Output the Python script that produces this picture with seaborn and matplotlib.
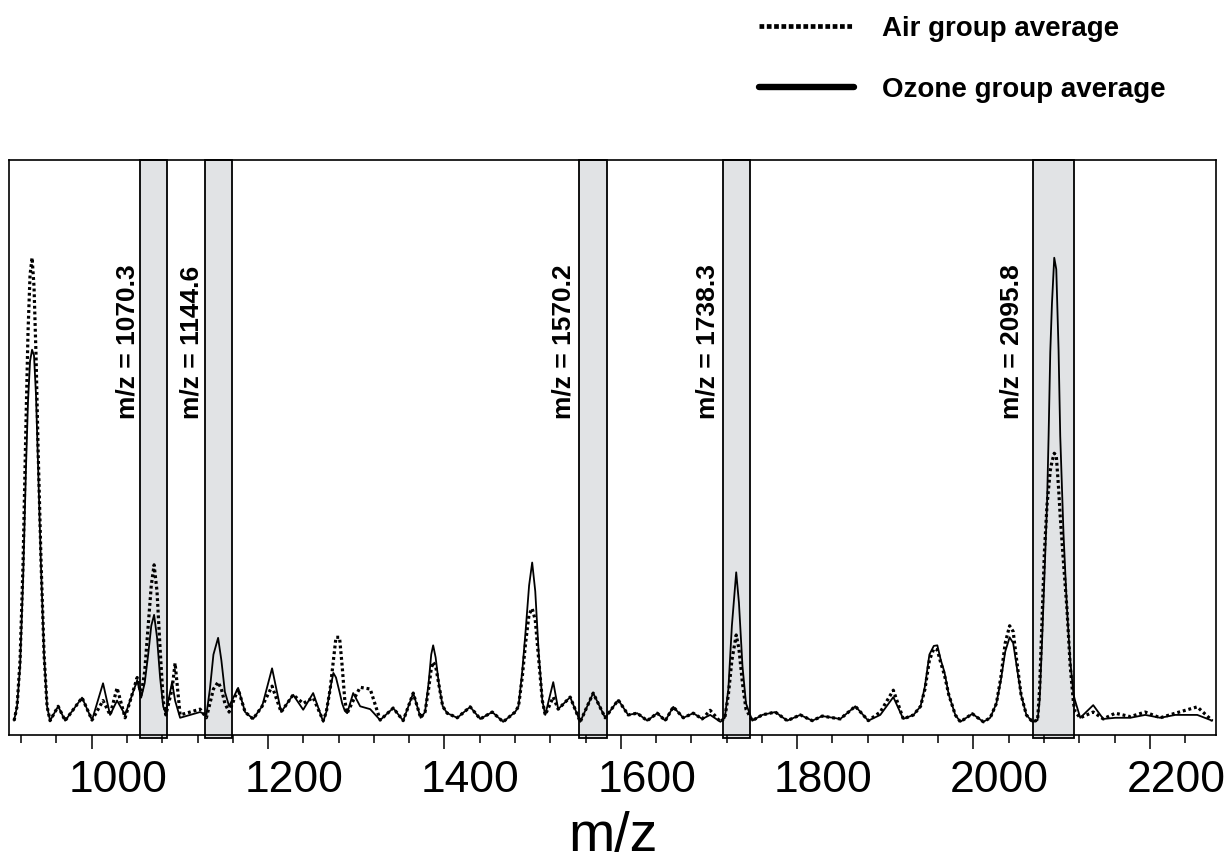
import numpy as np
import pandas as pd
import matplotlib
matplotlib.use("Agg")
import matplotlib.pyplot as plt
import matplotlib.transforms as mtransforms
from matplotlib.lines import Line2D
import seaborn as sns

# ---------------- data ----------------
mz = [911.9, 915.3, 918.7, 922.1, 925.5, 927.7, 930.0, 932.3, 934.5, 936.8,
      939.1, 942.5, 945.9, 949.3, 952.7, 961.9, 969.8, 989.0, 1000.3, 1012.8,
      1020.8, 1028.7, 1037.8, 1051.5, 1056, 1060, 1064, 1067.5, 1070.7, 1074,
      1077.5, 1081, 1084, 1091.1, 1094.5, 1100.2, 1111.5, 1122.9, 1130, 1134,
      1138, 1143.3, 1147, 1151, 1155.8, 1166.0, 1173.9, 1183.0, 1193.2, 1204.5,
      1214.8, 1228.4, 1239.8, 1251.1, 1262.5, 1266, 1270.4, 1274, 1277, 1281,
      1284, 1287, 1289.7, 1296.5, 1304.4, 1315.8, 1327.1, 1341.9, 1353.2, 1364.6,
      1373, 1378, 1382, 1385, 1387.2, 1390, 1394, 1398, 1403.1, 1414.5,
      1429.2, 1440.6, 1454.2, 1466.6, 1480.2, 1484, 1488.2, 1492, 1496, 1499.5,
      1503, 1507, 1511, 1514.3, 1523.4, 1529.0, 1542.6, 1554.0, 1568.7, 1582.3,
      1597.1, 1608.4, 1618.6, 1630.0, 1641.4, 1650.5, 1659.5, 1670.9, 1682.2, 1692.4,
      1701.4, 1713, 1718, 1722, 1726, 1730.9, 1734, 1738, 1742, 1749.1,
      1760.4, 1775.2, 1788.8, 1803.5, 1817.2, 1828.5, 1848.9, 1866.0, 1880.7, 1894.3,
      1909.1, 1920.4, 1932, 1940, 1945, 1950, 1955, 1959, 1963, 1967,
      1972, 1979.4, 1985.1, 1998.7, 2011.2, 2019, 2026, 2031, 2036, 2041,
      2045, 2049, 2054, 2060, 2066.8, 2072.7, 2075, 2077.7, 2080.5, 2083.4,
      2085.2, 2087.1, 2089.0, 2091.6, 2093.9, 2096.5, 2098.4, 2102.1, 2106.0, 2109.7,
      2113.5, 2115.4, 2121.1, 2135.8, 2147.2, 2160.8, 2177.8, 2194.8, 2211.8, 2228.9,
      2253.8, 2270.8]

air = [2.5, 5, 13, 30, 55, 70, 80, 83, 78, 66,
       50, 30, 14, 5, 2.5, 5, 2.5, 6.5, 2.6, 6,
       3.5, 8.2, 3, 10, 7, 11, 19, 26, 29.6, 25,
       15, 6, 3.5, 8, 12.5, 3.5, 4, 4.5, 3, 5.5,
       8, 9.2, 8, 5.5, 4, 8, 4, 2.8, 5, 8.5,
       4, 7, 5.5, 6.5, 2.5, 4, 8, 13, 17, 17,
       12, 6, 3.8, 6, 8.3, 8.0, 2.6, 4.7, 2.5, 7.3,
       3, 4, 8, 11.5, 12.7, 12, 8.5, 5, 3.8, 3,
       4.9, 2.8, 4, 2.3, 4, 5, 10, 16, 21, 22,
       20, 13, 6, 3.5, 6.6, 4.5, 6.6, 2.3, 7.3, 3,
       6.1, 3.5, 3.8, 2.5, 3.8, 2.5, 4.9, 3.0, 3.8, 2.8,
       4.3, 2.3, 3, 7, 13, 17.4, 15, 9, 4.5, 2.5,
       3.5, 4, 2.5, 3.5, 2.5, 3.3, 2.8, 5, 2.5, 4,
       7.8, 2.8, 3.5, 5, 8, 13, 15, 14.8, 12.5, 10.5,
       7, 3.5, 2.3, 3.7, 2.3, 3, 5.5, 10, 16, 19,
       18, 13, 7, 3.5, 2.3, 2.6, 8, 20, 32, 40,
       43, 46, 47.5, 49, 48.6, 43, 38, 30, 22, 12,
       5.5, 4, 3, 4, 2.8, 3.8, 3.2, 4, 3, 3.8,
       4.9, 2.5]

ozone = [2.5, 5, 12, 27, 47, 58, 65, 67, 66, 59,
         47, 29, 14, 5, 2.5, 5, 2.5, 6.5, 2.6, 9,
         3.5, 6, 3.5, 9.5, 6.5, 9, 14, 19, 20.9, 17,
         10, 5, 3.8, 9.2, 6, 3, 3.5, 4, 3.5, 8,
         14, 16.9, 13, 7.5, 5, 8.2, 4, 2.8, 5, 11.6,
         4, 7, 4.4, 7.3, 2.3, 4, 8, 10.8, 10, 7.5,
         5.5, 4.2, 3.8, 7.3, 5, 4.5, 2.6, 4.7, 2.5, 7.3,
         3, 4, 9, 14, 15.6, 13.5, 8.5, 5, 3.8, 3,
         4.9, 2.8, 4, 2.3, 4, 5, 11, 18, 26, 30,
         25, 14, 6, 3.5, 9.2, 4.5, 6.6, 2.3, 7.3, 3,
         6.1, 3.5, 3.8, 2.5, 3.8, 2.5, 4.9, 3.0, 3.8, 2.8,
         3.5, 2.3, 3, 8, 19, 28.3, 23, 12, 5.5, 2.5,
         3.5, 4, 2.5, 3.5, 2.5, 3.3, 2.8, 5, 2.5, 3.5,
         6.6, 2.8, 3.5, 5, 8.5, 14, 15.5, 15.6, 13, 11,
         7, 3.5, 2.3, 3.7, 2.3, 3, 5.5, 9.5, 14.5, 17,
         16, 12, 7, 3.5, 2.3, 2.6, 6, 16, 28, 40,
         52, 66.6, 75, 83, 81, 67, 52, 35, 22, 13,
         7, 5.9, 3, 5.2, 2.8, 3, 3, 3.5, 3, 3.5,
         3.5, 2.5]

band_labels = ["1070.3", "1144.6", "1570.2", "1738.3", "2095.8"]
band_lo = [1055.0, 1128.6, 1553.0, 1715.5, 2067.5]
band_hi = [1085.5, 1159.5, 1584.0, 1746.0, 2114.0]
label_x = [1041.0, 1112.6, 1534.6, 1698.0, 2042.8]

major_ticks = [1000, 1200, 1400, 1600, 1800, 2000, 2200]
minor_ticks = list(range(920, 2241, 40))

series_names = ["Air group average", "Ozone group average"]

df = pd.DataFrame({"mz": mz, "air": air, "ozone": ozone})

# ---------------- style ----------------
sns.set_theme(style="white")
plt.rcParams["font.family"] = ["Liberation Sans", "DejaVu Sans"]
plt.rcParams["text.color"] = "black"
plt.rcParams["axes.labelcolor"] = "black"
plt.rcParams["xtick.color"] = "black"
plt.rcParams["ytick.color"] = "black"

fig = plt.figure(figsize=(12.26, 8.67), dpi=100)
ax = fig.add_axes([0.0076, 0.1522, 0.9842, 0.6633])

# shaded bands
for lo, hi in zip(band_lo, band_hi):
    ax.axvspan(lo, hi, ymin=-0.006, ymax=1.0, facecolor="#e1e3e5",
               edgecolor="black", linewidth=1.3, zorder=0, clip_on=False)

sns.lineplot(data=df, x="mz", y="ozone", ax=ax, color="black", linewidth=1.3,
             zorder=3, estimator=None, sort=False)
sns.lineplot(data=df, x="mz", y="air", ax=ax, color="black", linewidth=2.3,
             zorder=4, estimator=None, sort=False)
ax.lines[0].set_linestyle("-")
ax.lines[1].set_linestyle((0, (0.9, 0.9)))

for lab, xp in zip(band_labels, label_x):
    ax.text(xp, 55, f"m/z = {lab}", rotation=90, ha="center", va="bottom",
            fontsize=19, fontweight="bold", color="black")

ax.set_xlim(906.5, 2275)
ax.set_ylim(0, 100)
ax.set_yticks([])
ax.set_ylabel("")
ax.set_xticks(major_ticks)
ax.set_xticks(minor_ticks, minor=True)
ax.set_xticklabels([str(t) for t in major_ticks])
ax.tick_params(axis="x", which="major", direction="out", length=10, width=1.1,
               labelsize=32, pad=8, colors="black", bottom=True)
ax.tick_params(axis="x", which="minor", direction="out", length=5.5, width=1.1,
               color="black", bottom=True)
offset = mtransforms.ScaledTranslation(0.26, 0, fig.dpi_scale_trans)
for lbl in ax.get_xticklabels():
    lbl.set_transform(lbl.get_transform() + offset)

ax.set_xlabel("m/z", fontsize=40, labelpad=7, color="black")
for sp in ax.spines.values():
    sp.set_visible(True)
    sp.set_color("black")
    sp.set_linewidth(1.2)

# legend
handles = [Line2D([], [], color="black", linewidth=3.4, linestyle=(0, (1.0, 0.55))),
           Line2D([], [], color="black", linewidth=4.6, linestyle="-")]
leg = fig.legend(handles, series_names, loc="upper left", bbox_to_anchor=(0.6126, 0.991),
                 frameon=False, handlelength=3.4, handletextpad=1.0, labelspacing=1.25,
                 borderpad=0.3, borderaxespad=0.0,
                 prop={"family": ["Liberation Sans", "DejaVu Sans"], "weight": "bold", "size": 20})
for t in leg.get_texts():
    t.set_color("black")

fig.savefig("out.png", dpi=100)
